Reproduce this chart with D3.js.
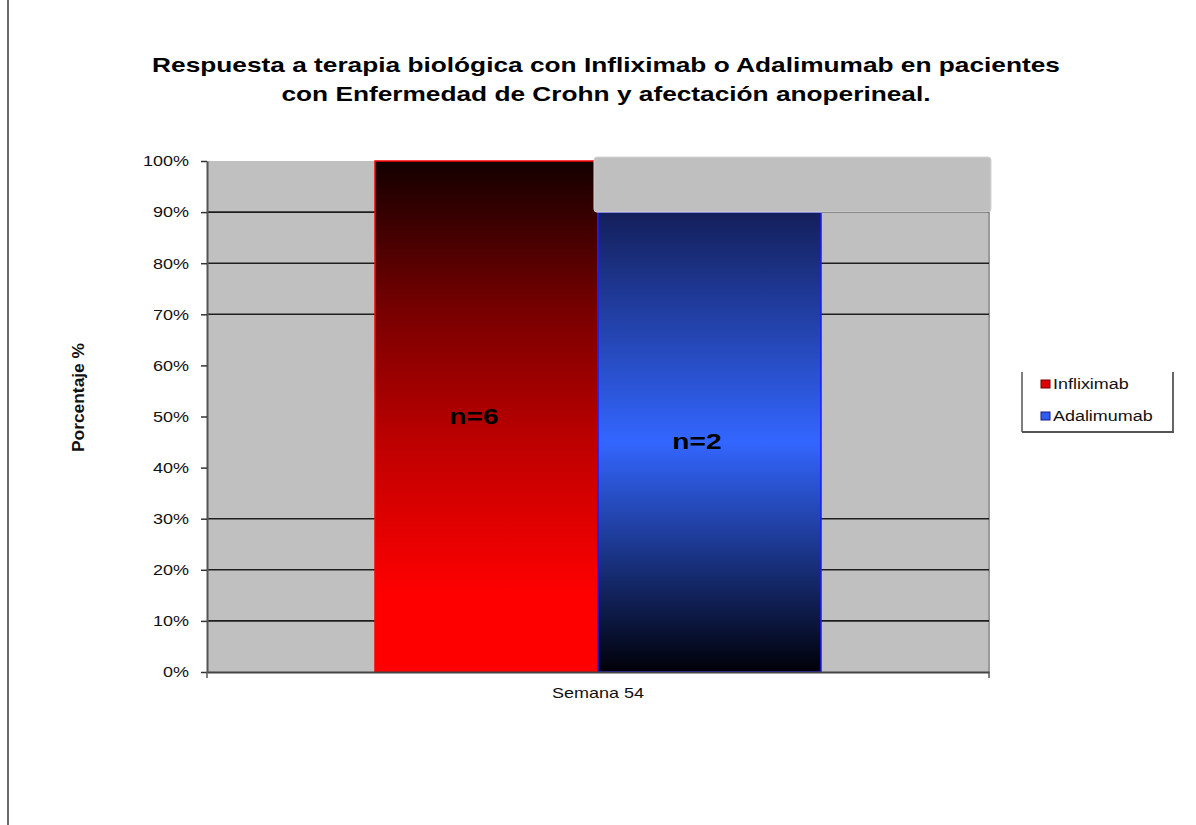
<!DOCTYPE html>
<html><head><meta charset="utf-8">
<script src="https://cdn.jsdelivr.net/npm/d3@7"></script>
<style>
body{margin:0;background:#fff;}
text{font-family:"Liberation Sans",Arial,sans-serif;}
</style>
</head><body>
<svg id="c" width="1196" height="825"></svg>
<script>
// ---- data ----
const titleLines = ["Respuesta a terapia biológica con Infliximab o Adalimumab en pacientes",
                    "con Enfermedad de Crohn y afectación anoperineal."];
const categories = ["Semana 54"];
const seriesNames = ["Infliximab", "Adalimumab"];
const seriesValues = [1.00, 0.90];
const barLabels = ["n=6", "n=2"];
const yTicks = [0, 0.1, 0.2, 0.3, 0.4, 0.5, 0.6, 0.7, 0.8, 0.9, 1.0];
const gridValues = [0.1, 0.2, 0.3, 0.7, 0.8, 0.9];
const yAxisTitle = "Porcentaje %";

// ---- setup ----
const svg = d3.select("#c");
const P = {left: 207, right: 989, top: 161, bottom: 672};
const SX = 1.25; // horizontal stretch of text in reference

function stretch(sel, k) {
  sel.each(function () {
    const w = this.getComputedTextLength();
    this.setAttribute("textLength", w * k);
    this.setAttribute("lengthAdjust", "spacingAndGlyphs");
  });
}

const y = d3.scaleLinear().domain([0, 1]).range([P.bottom, P.top]);
const x0 = d3.scaleBand().domain(categories).range([P.left, P.right]).paddingInner(0).paddingOuter(0.3767);
const x1 = d3.scaleBand().domain(seriesNames).range([0, x0.bandwidth()]).padding(0);

// gradients
const defs = svg.append("defs");
const gradStops = {
  Infliximab: [[0, "#130000"], [0.3, "#7a0000"], [0.55, "#bd0000"], [0.85, "#ff0000"], [1, "#ff0000"]],
  Adalimumab: [[0, "#131f5a"], [0.5, "#3366ff"], [1, "#000008"]]
};
const borderCol = {Infliximab: "#ff0000", Adalimumab: "#1a1aff"};
seriesNames.forEach((s, i) => {
  const g = defs.append("linearGradient").attr("id", "g" + i)
    .attr("x1", 0).attr("y1", 0).attr("x2", 0).attr("y2", 1);
  gradStops[s].forEach(([o, c]) => g.append("stop").attr("offset", o).attr("stop-color", c));
});

// left page border line
svg.append("line").attr("x1", 8).attr("x2", 8).attr("y1", 0).attr("y2", 825)
  .attr("stroke", "#6a6a6a").attr("stroke-width", 2);

// title
svg.append("g").selectAll("text").data(titleLines).join("text")
  .attr("x", (P.left + P.right) / 2 + 8)
  .attr("y", (d, i) => 72 + i * 29)
  .attr("text-anchor", "middle")
  .attr("font-size", 21).attr("font-weight", "bold").attr("fill", "#000")
  .text(d => d)
  .call(stretch, SX);

// plot background
svg.append("rect").attr("x", P.left).attr("y", P.top)
  .attr("width", P.right - P.left).attr("height", P.bottom - P.top)
  .attr("fill", "#c0c0c0");
svg.append("line").attr("x1", P.right).attr("x2", P.right).attr("y1", P.top).attr("y2", P.bottom)
  .attr("stroke", "#9a9a9a").attr("stroke-width", 2);

// gridlines
svg.append("g").selectAll("line").data(gridValues).join("line")
  .attr("x1", P.left).attr("x2", P.right)
  .attr("y1", d => y(d)).attr("y2", d => y(d))
  .attr("stroke", "#1e1e1e").attr("stroke-width", 1.6);

// bars
const bars = svg.append("g").selectAll("g").data(categories).join("g")
  .attr("transform", d => `translate(${x0(d)},0)`);
bars.selectAll("rect").data(() => seriesNames.map((s, i) => ({s, i, v: seriesValues[i]}))).join("rect")
  .attr("x", d => x1(d.s))
  .attr("y", d => y(d.v))
  .attr("width", x1.bandwidth())
  .attr("height", d => y(0) - y(d.v))
  .attr("fill", d => `url(#g${d.i})`)
  .attr("stroke", d => borderCol[d.s]).attr("stroke-width", 1.5);

// gray overlay box above Adalimumab bar
svg.append("rect")
  .attr("x", x0(categories[0]) + x1(seriesNames[1]) - 4)
  .attr("y", P.top - 4)
  .attr("width", P.right + 2 - (x0(categories[0]) + x1(seriesNames[1]) - 4))
  .attr("height", y(seriesValues[1]) - (P.top - 4))
  .attr("rx", 3)
  .attr("fill", "#bfbfbf").attr("stroke", "#d4d4d4").attr("stroke-width", 1);

// bar labels (placed slightly left of bar centre, as in the original)
bars.selectAll("text").data(() => seriesNames.map((s, i) => ({s, i, v: seriesValues[i]}))).join("text")
  .attr("x", d => x1(d.s) + x1.bandwidth() / 2 - 12.5)
  .attr("y", d => (y(d.v) + y(0)) / 2 + 7)
  .attr("text-anchor", "middle")
  .attr("font-size", 22).attr("font-weight", "bold").attr("fill", "#000")
  .text(d => barLabels[d.i])
  .call(stretch, 1.28);

// y axis
const yAxis = svg.append("g").attr("transform", `translate(${P.left},0)`)
  .call(d3.axisLeft(y).tickValues(yTicks).tickFormat(d3.format(".0%")).tickSize(6).tickSizeOuter(0).tickPadding(12));
yAxis.select(".domain").attr("stroke", "#555").attr("stroke-width", 2);
yAxis.selectAll(".tick line").attr("stroke", "#333").attr("stroke-width", 1.5);
yAxis.selectAll(".tick text").attr("font-size", 15).attr("fill", "#111")
  .attr("font-family", '"Liberation Sans",Arial,sans-serif').call(stretch, 1.2);

// x axis
const xAxis = svg.append("g").attr("transform", `translate(0,${P.bottom})`)
  .call(d3.axisBottom(x0).tickSize(0).tickSizeOuter(0).tickPadding(15));
xAxis.select(".domain").attr("stroke", "#444").attr("stroke-width", 2);
xAxis.selectAll(".tick text").attr("font-size", 15).attr("fill", "#111")
  .attr("font-family", '"Liberation Sans",Arial,sans-serif').call(stretch, 1.2);
xAxis.append("g").selectAll("line").data(x0.range()).join("line")
  .attr("x1", d => d).attr("x2", d => d).attr("y1", 0).attr("y2", 6)
  .attr("stroke", "#555").attr("stroke-width", 1.5);

// y axis title
svg.append("g").attr("transform", `translate(84,${(P.top + P.bottom) / 2 + -19}) scale(1.15,1) rotate(-90)`)
  .append("text").attr("text-anchor", "middle")
  .attr("font-size", 15).attr("font-weight", "bold").attr("fill", "#111")
  .attr("textLength", 109).attr("lengthAdjust", "spacingAndGlyphs")
  .text(yAxisTitle);

// legend
const L = {x: 1022, y: 372, w: 151, h: 60};
const lg = svg.append("g");
lg.append("line").attr("x1", L.x).attr("x2", L.x).attr("y1", L.y).attr("y2", L.y + L.h)
  .attr("stroke", "#555").attr("stroke-width", 1.5);
lg.append("line").attr("x1", L.x + L.w).attr("x2", L.x + L.w).attr("y1", L.y).attr("y2", L.y + L.h)
  .attr("stroke", "#666").attr("stroke-width", 2);
lg.append("line").attr("x1", L.x).attr("x2", L.x + L.w + 1).attr("y1", L.y + L.h).attr("y2", L.y + L.h)
  .attr("stroke", "#555").attr("stroke-width", 2);
const items = lg.selectAll("g.item").data(seriesNames).join("g").attr("class", "item")
  .attr("transform", (d, i) => `translate(${L.x + 19},${L.y + 8 + i * 32})`);
items.append("rect").attr("x", 0).attr("y", 0).attr("width", 9).attr("height", 8)
  .attr("fill", (d, i) => i === 0 ? "#e00000" : "#2f5cf0")
  .attr("stroke", (d, i) => i === 0 ? "#700000" : "#1a1a80").attr("stroke-width", 1);
items.append("text").attr("x", 12).attr("y", 9)
  .attr("font-size", 14).attr("fill", "#111")
  .text(d => d)
  .call(stretch, 1.28);
</script>
</body></html>
